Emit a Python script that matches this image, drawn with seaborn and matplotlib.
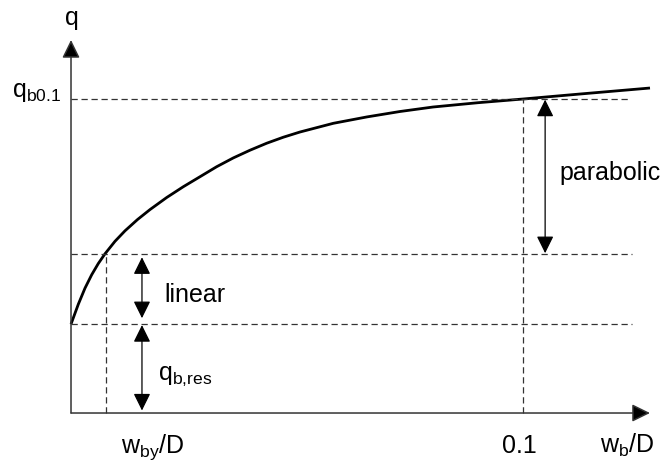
import matplotlib
matplotlib.use("Agg")
import matplotlib.pyplot as plt
import seaborn as sns
import pandas as pd

# ---- data (w_b/D on x, q on y) ----
wb_curve = [0.0, 0.00162, 0.00310, 0.00458, 0.00604, 0.00752, 0.00973, 0.01195,
            0.01471, 0.01748, 0.02117, 0.02485, 0.02854, 0.03223, 0.03591,
            0.03960, 0.04330, 0.04697, 0.05066, 0.05803, 0.06549, 0.07279,
            0.08009, 0.09004, 0.10000, 0.11261, 0.12810]
q_curve = [0.283, 0.3465, 0.3978, 0.4404, 0.4761, 0.5070, 0.5468, 0.5803,
           0.6161, 0.6479, 0.6863, 0.7207, 0.7525, 0.7844, 0.8124,
           0.8369, 0.8592, 0.8783, 0.8949, 0.9226, 0.9430, 0.9602,
           0.9745, 0.9882, 1.0000, 1.0159, 1.0350]
q_res = 0.283
q_y = 0.506
q_01 = 1.0
w_by = 0.0077
w_01 = 0.1
x_end = 0.1281
y_end = 1.188
dash_end = [0.1237, 0.1241, 0.1241]

sns.set_theme(style="white")
plt.rcParams['font.family'] = ['Liberation Sans', 'DejaVu Sans']
plt.rcParams['mathtext.fontset'] = 'custom'
plt.rcParams['mathtext.rm'] = 'Liberation Sans'
plt.rcParams['text.color'] = 'black'

fig = plt.figure(figsize=(6.65, 4.62), dpi=100)
ax = fig.add_axes([0, 0, 1, 1])
ax.set_xlim(-0.01571, 0.13142)
ax.set_ylim(-0.156, 1.3153)
ax.axis('off')

df = pd.DataFrame({"w": wb_curve, "q": q_curve})
sns.lineplot(data=df, x="w", y="q", ax=ax, color="black", lw=2.0,
             sort=False, solid_capstyle='butt', solid_joinstyle='round')

dash = dict(color="#333333", lw=0.9, linestyles=(0, (5, 3)))
ax.hlines([q_01, q_y, q_res], 0, dash_end, **dash)
ax.vlines([w_by], 0, q_y, **dash)
ax.vlines([w_01], 0, q_01, **dash)

# axes with arrowheads
ax_style = "-|>,head_length=11,head_width=5.4"
for tip in [(0, y_end), (x_end, 0)]:
    ax.annotate("", xy=tip, xytext=(0, 0),
                arrowprops=dict(arrowstyle=ax_style, mutation_scale=1,
                                fc="black", ec="#333333",
                                lw=1.1, shrinkA=0, shrinkB=0))

# double arrows
d_style = "<|-|>,head_length=10.5,head_width=5.2"
darrow = dict(arrowstyle=d_style, mutation_scale=1, color="black",
              lw=0.9, shrinkA=0, shrinkB=0)
ax.annotate("", xy=(0.0157, q_y - 0.010), xytext=(0.0157, q_res + 0.019),
            arrowprops=darrow)
ax.annotate("", xy=(0.0157, q_res - 0.003), xytext=(0.0157, 0.008),
            arrowprops=darrow)
ax.annotate("", xy=(0.1049, q_01 - 0.002), xytext=(0.1049, q_y + 0.003),
            arrowprops=darrow)

fs = 18
tk = dict(fontsize=fs, va="baseline", color="black")
ax.text(0.0002, 1.236, "q", ha="center", **tk)
ax.text(-0.0022, 1.006, r"$\mathregular{q_{b0.1}}$", ha="right", **tk)
ax.text(0.0181, -0.127, r"$\mathregular{w_{by}/D}$", ha="center", **tk)
ax.text(0.0993, -0.127, "0.1", ha="center", **tk)
ax.text(0.1230, -0.127, r"$\mathregular{w_{b}/D}$", ha="center", **tk)
ax.text(0.0206, 0.3535, "linear", ha="left", **tk)
ax.text(0.0192, 0.105, r"$\mathregular{q_{b{,}res}}$", ha="left", **tk)
ax.text(0.1080, 0.742, "parabolic", ha="left", **tk)

fig.savefig("out.png", dpi=100)
